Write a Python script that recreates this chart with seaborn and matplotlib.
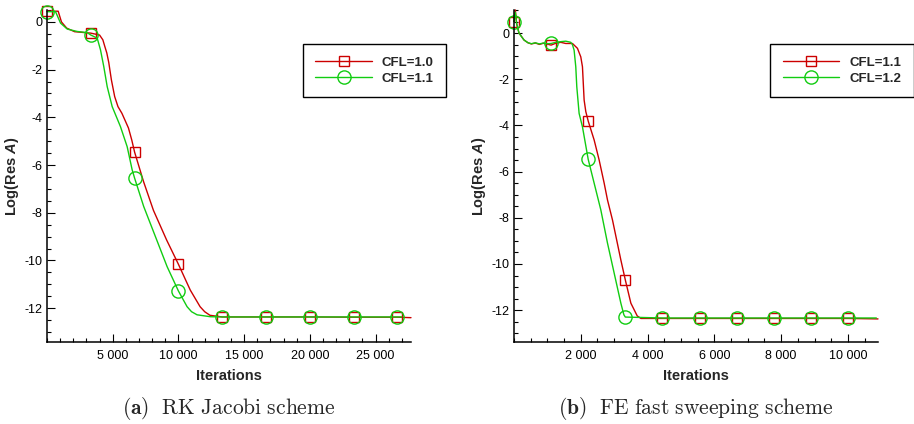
import numpy as np
import seaborn as sns
import matplotlib.pyplot as plt
from matplotlib.ticker import MultipleLocator, FixedLocator, FuncFormatter

# (a) RK Jacobi scheme
rk_x_10 = [0, 850, 1100, 1500, 2100, 3333, 4000, 4250, 4400, 4550, 4700, 4900, 5150, 5400,
           5700, 6200, 6450, 6667, 7350, 8100, 9100, 10000, 10900, 11650, 12000, 12400,
           13200, 13333, 16667, 20000, 23333, 26667, 27700]
rk_y_10 = [0.45, 0.45, 0.0, -0.26, -0.41, -0.47, -0.55, -0.75, -1.03, -1.3, -1.7, -2.43,
           -3.13, -3.55, -3.83, -4.45, -4.95, -5.46, -6.7, -7.9, -9.14, -10.16, -11.24,
           -11.94, -12.15, -12.3, -12.36, -12.37, -12.37, -12.37, -12.38, -12.38, -12.4]
rk_x_11 = [0, 650, 1030, 1540, 2300, 3060, 3333, 3820, 4070, 4320, 4580, 4960, 5590, 6100,
           6480, 6667, 7360, 8250, 9140, 10000, 10660, 11000, 11420, 12430, 13333, 16667,
           20000, 23333, 26667, 27000]
rk_y_11 = [0.43, 0.43, -0.05, -0.3, -0.4, -0.45, -0.55, -0.68, -1.17, -1.87, -2.71, -3.55,
           -4.39, -5.23, -6.2, -6.55, -7.74, -9.0, -10.26, -11.28, -11.94, -12.15, -12.28,
           -12.36, -12.37, -12.37, -12.37, -12.37, -12.37, -12.37]
rk_marks = [0, 3333, 6667, 10000, 13333, 16667, 20000, 23333, 26667]

# (b) FE fast sweeping scheme
fe_x_11 = [0, 40, 80, 150, 300, 420, 520, 640, 760, 880, 1000, 1111, 1250, 1400, 1550, 1750,
           1900, 2000, 2050, 2100, 2150, 2222, 2400, 2550, 2700, 2800, 2950, 3200, 3333,
           3500, 3690, 3800, 4444, 5556, 6667, 7778, 8889, 10000, 10900]
fe_y_11 = [0.5, 1.0, 0.4, 0.0, -0.3, -0.42, -0.47, -0.43, -0.49, -0.44, -0.48, -0.52, -0.44,
           -0.4, -0.45, -0.45, -0.66, -1.03, -1.46, -2.9, -3.4, -3.81, -4.63, -5.5, -6.5,
           -7.23, -8.1, -9.83, -10.69, -11.7, -12.25, -12.36, -12.36, -12.36, -12.36,
           -12.36, -12.36, -12.36, -12.38]
fe_x_12 = [0, 40, 80, 150, 300, 420, 520, 640, 760, 880, 1000, 1111, 1250, 1400, 1550, 1700,
           1750, 1800, 1850, 1880, 1950, 2050, 2222, 2400, 2600, 2800, 3000, 3200, 3290,
           3333, 4444, 5556, 6667, 7778, 8889, 10000, 10850]
fe_y_12 = [0.5, 0.9, 0.4, 0.0, -0.3, -0.42, -0.46, -0.42, -0.47, -0.43, -0.46, -0.45, -0.4,
           -0.37, -0.35, -0.4, -0.5, -0.74, -1.46, -2.32, -3.48, -4.06, -5.47, -6.5, -7.66,
           -9.1, -10.4, -11.7, -12.2, -12.3, -12.34, -12.34, -12.34, -12.34, -12.34, -12.34,
           -12.34]
fe_marks = [0, 1111, 2222, 3333, 4444, 5556, 6667, 7778, 8889, 10000]

red = '#cc0000'
green = '#11cc11'

sns.set_theme(style='white')
plt.rcParams['font.family'] = ['Liberation Sans', 'DejaVu Sans']
plt.rcParams['mathtext.fontset'] = 'custom'
plt.rcParams['mathtext.rm'] = 'Liberation Sans:bold'
plt.rcParams['mathtext.it'] = 'Liberation Sans:italic:bold'
plt.rcParams['mathtext.bf'] = 'Liberation Sans:bold'

fig = plt.figure(figsize=(9.14, 4.24), dpi=100)
ax1 = fig.add_axes([47 / 914, 82 / 424, 364 / 914, 332 / 424])
ax2 = fig.add_axes([514 / 914, 82 / 424, 364 / 914, 332 / 424])


def draw(ax, x, y, marks, color, marker, ms, label):
    x = np.array(x)
    idx = list(np.where(np.isin(x, marks))[0])
    sns.lineplot(x=x, y=y, ax=ax, color=color, lw=1.0, marker=marker, ms=ms,
                 markevery=idx, markerfacecolor='none', markeredgecolor=color,
                 markeredgewidth=1.0, clip_on=False, errorbar=None, sort=False,
                 label=label)


draw(ax1, rk_x_10, rk_y_10, rk_marks, red, 's', 6.5, 'CFL=1.0')
draw(ax1, rk_x_11, rk_y_11, rk_marks, green, 'o', 9.5, 'CFL=1.1')
draw(ax2, fe_x_11, fe_y_11, fe_marks, red, 's', 6.5, 'CFL=1.1')
draw(ax2, fe_x_12, fe_y_12, fe_marks, green, 'o', 9.5, 'CFL=1.2')

fmt = FuncFormatter(lambda v, p: f'{v:,.0f}'.replace(',', ' '))

ax1.set_xlim(0, 27700)
ax1.set_ylim(-13.42, 0.5)
ax1.xaxis.set_major_locator(FixedLocator([5000, 10000, 15000, 20000, 25000]))
ax1.xaxis.set_minor_locator(MultipleLocator(1000))

ax2.set_xlim(0, 10900)
ax2.set_ylim(-13.38, 1.0)
ax2.xaxis.set_major_locator(FixedLocator([2000, 4000, 6000, 8000, 10000]))
ax2.xaxis.set_minor_locator(MultipleLocator(500))

legend_pos = {ax1: 302.7, ax2: 770}
captions = {ax1: r'$\mathbf{(a)}\ \ \mathrm{RK\ Jacobi\ scheme}$',
            ax2: r'$\mathbf{(b)}\ \ \mathrm{FE\ fast\ sweeping\ scheme}$'}

for ax in (ax1, ax2):
    ax.yaxis.set_major_locator(FixedLocator([0, -2, -4, -6, -8, -10, -12]))
    ax.yaxis.set_minor_locator(MultipleLocator(0.5))
    ax.xaxis.set_major_formatter(fmt)
    ax.yaxis.set_major_formatter(FuncFormatter(lambda v, p: f'{v:g}'))
    for s in ('top', 'right'):
        ax.spines[s].set_visible(False)
    for s in ('left', 'bottom'):
        ax.spines[s].set_color('black')
        ax.spines[s].set_linewidth(1.1)
    ax.tick_params(which='both', direction='in', colors='black', width=0.8,
                   labelsize=9, bottom=True, left=True)
    ax.tick_params(which='major', length=5.8, pad=3.5)
    ax.tick_params(which='minor', length=3.2)
    ax.tick_params(axis='x', which='major', pad=5.5)
    ax.set_xlabel('Iterations', fontsize=10.5, fontweight='bold', labelpad=5)
    ax.set_ylabel(r'Log(Res $\mathit{A}$)', fontsize=10.5, fontweight='bold', labelpad=2)
    ax.patch.set_alpha(0)

    leg = ax.legend(loc='upper left', bbox_to_anchor=(legend_pos[ax] / 914, 1 - 44.3 / 424),
                    bbox_transform=fig.transFigure, frameon=True, fancybox=False,
                    edgecolor='black', framealpha=1, borderpad=0.95, handlelength=4.3,
                    handletextpad=0.75, labelspacing=0.25, borderaxespad=0,
                    prop=dict(weight='bold', size=9.5))
    leg.get_frame().set_linewidth(1.0)

    bb = ax.get_position()
    t = fig.text((bb.x0 + bb.x1) / 2, 1 - 409 / 424, captions[ax], ha='center',
                 va='center', fontsize=15.5)
    t.set_math_fontfamily('cm')

fig.savefig('out.png', dpi=100)
